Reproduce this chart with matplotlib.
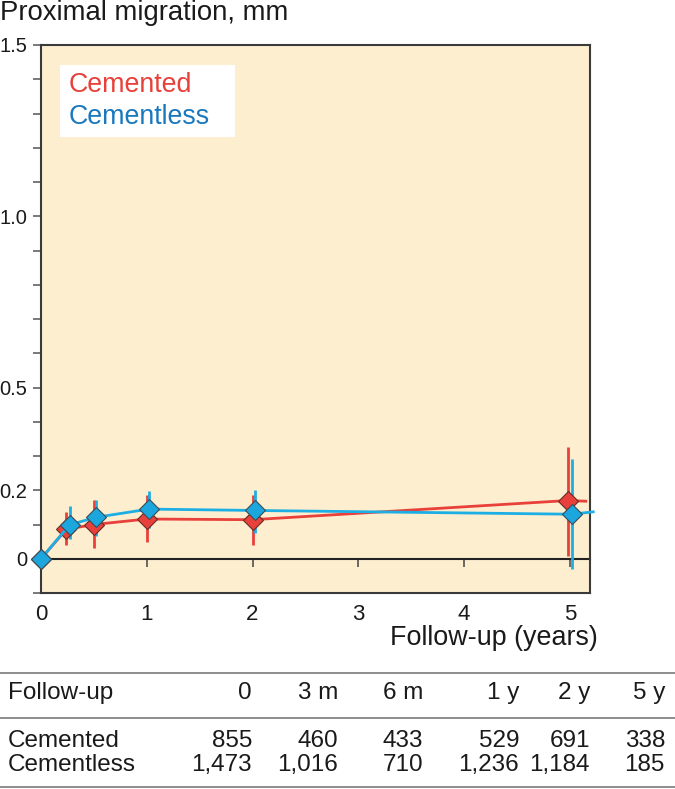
import matplotlib
matplotlib.use("Agg")
import matplotlib.pyplot as plt
import numpy as np
from matplotlib.patches import Rectangle
from matplotlib.lines import Line2D

plt.rcParams['font.family'] = ['Liberation Sans', 'DejaVu Sans']

# ---- data ----
cem_x = [0, 0.24, 0.5, 1.0, 2.0, 4.98]
cem_y = [0, 0.086, 0.100, 0.116, 0.114, 0.170]
cem_lo = [0, 0.039, 0.032, 0.050, 0.039, 0.008]
cem_hi = [0, 0.137, 0.172, 0.186, 0.187, 0.326]
cem_end = (5.15, 0.168)

cl_x = [0, 0.27, 0.52, 1.02, 2.02, 5.02]
cl_y = [0, 0.099, 0.121, 0.145, 0.141, 0.130]
cl_lo = [0, 0.057, 0.067, 0.089, 0.076, -0.031]
cl_hi = [0, 0.155, 0.172, 0.199, 0.201, 0.290]
cl_end = (5.22, 0.137)

x_ticks = [0, 1, 2, 3, 4, 5]
y_ticks = [round(v, 1) for v in np.arange(-0.1, 1.51, 0.1)]
y_labels = {0.0: "0", 0.2: "0.2", 0.5: "0.5", 1.0: "1.0", 1.5: "1.5"}

table_header = ["Follow-up", "0", "3 m", "6 m", "1 y", "2 y", "5 y"]
table_cemented = ["Cemented", "855", "460", "433", "529", "691", "338"]
table_cementless = ["Cementless", "1,473", "1,016", "710", "1,236", "1,184", "185"]

RED = "#E8403A"
BLUE = "#1DAEE4"
BLUE_TXT = "#1A78BE"
BG = "#FDEECF"

W, H = 675, 789
fig = plt.figure(figsize=(W / 100, H / 100), dpi=100)
ax = fig.add_axes([41 / W, 1 - 593 / H, (590 - 41) / W, (593 - 45) / H])
ax.set_facecolor(BG)
ax.set_xlim(0, 5.19)
ax.set_ylim(-0.1, 1.5)

for s in ax.spines.values():
    s.set_color("#3a3a3a")
    s.set_linewidth(1.5)

# y ticks
ax.set_yticks(y_ticks)
ax.set_yticklabels([y_labels.get(v, "") for v in y_ticks])
ax.tick_params(axis="y", direction="out", length=6, width=1.1, color="#555555",
               labelsize=14.5, pad=4, labelcolor="#1a1a1a")

# x ticks: labels at bottom, only tick mark at 0 on bottom spine
ax.set_xticks(x_ticks)
ax.set_xticklabels([str(v) for v in x_ticks])
ax.tick_params(axis="x", which="major", length=0, labelsize=16, pad=8, labelcolor="#1a1a1a")
ax.set_xticks([0], minor=True)
ax.tick_params(axis="x", which="minor", direction="out", length=6, width=1.1, color="#555555")

# zero line with ticks
sec = ax.secondary_xaxis(0, transform=ax.transData)
sec.spines["bottom"].set_color("#222222")
sec.spines["bottom"].set_linewidth(1.5)
sec.set_xticks(x_ticks[1:])
sec.set_xticklabels([])
sec.tick_params(direction="out", length=6, width=1.1, color="#444444")

# error bars
def err(y, lo, hi):
    y = np.array(y); return [y - np.array(lo), np.array(hi) - y]

ax.errorbar(cem_x[1:], cem_y[1:], yerr=[e[1:] for e in err(cem_y, cem_lo, cem_hi)],
            fmt="none", ecolor=RED, elinewidth=2, capsize=0, zorder=3, clip_on=False)
ax.errorbar(cl_x[1:], cl_y[1:], yerr=[e[1:] for e in err(cl_y, cl_lo, cl_hi)],
            fmt="none", ecolor=BLUE, elinewidth=2, capsize=0, zorder=4, clip_on=False)

# lines
ax.plot(cem_x + [cem_end[0]], cem_y + [cem_end[1]], color=RED, lw=2, zorder=5, clip_on=False)
ax.plot(cem_x, cem_y, linestyle="none", marker="D", markersize=10, markerfacecolor=RED,
        markeredgecolor="#6a2a25", markeredgewidth=0.8, zorder=6, clip_on=False)
ax.plot(cl_x + [cl_end[0]], cl_y + [cl_end[1]], color=BLUE, lw=2, zorder=7, clip_on=False)
ax.plot(cl_x, cl_y, linestyle="none", marker="D", markersize=10, markerfacecolor="#1BA6DE",
        markeredgecolor="#3d4b55", markeredgewidth=0.8, zorder=8, clip_on=False)

# legend box
ax.add_patch(Rectangle((0.0346, 0.832), 0.318, 0.1315, transform=ax.transAxes,
                       facecolor="white", edgecolor="none", zorder=9))
ax.text(0.051, 0.927, "Cemented", color=RED, fontsize=19.3, va="center", ha="left",
        transform=ax.transAxes, zorder=10)
ax.text(0.051, 0.869, "Cementless", color=BLUE_TXT, fontsize=19.3, va="center", ha="left",
        transform=ax.transAxes, zorder=10)

# titles
fig.text(0.0, 1 - 13 / H, "Proximal migration, mm", fontsize=19.8, va="center", ha="left",
         color="#1a1a1a")
fig.text(598 / W, 1 - 638 / H, "Follow-up (years)", fontsize=19.4, va="center", ha="right",
         color="#1a1a1a")

# table
for yy in [673, 718, 787]:
    fig.add_artist(Line2D([0, 1], [1 - yy / H, 1 - yy / H], color="#7a7a7a", lw=1.2))

col_right = [252, 338, 423, 519, 590, 665]
rows = [(table_header, 693), (table_cemented, 741), (table_cementless, 765)]
for row, yy in rows:
    fig.text(8 / W, 1 - yy / H, row[0], fontsize=17.5, va="center", ha="left", color="#1a1a1a")
    for val, xr in zip(row[1:], col_right):
        fig.text(xr / W, 1 - yy / H, val, fontsize=17.5, va="center", ha="right", color="#1a1a1a")

fig.savefig("out.png", dpi=100)
